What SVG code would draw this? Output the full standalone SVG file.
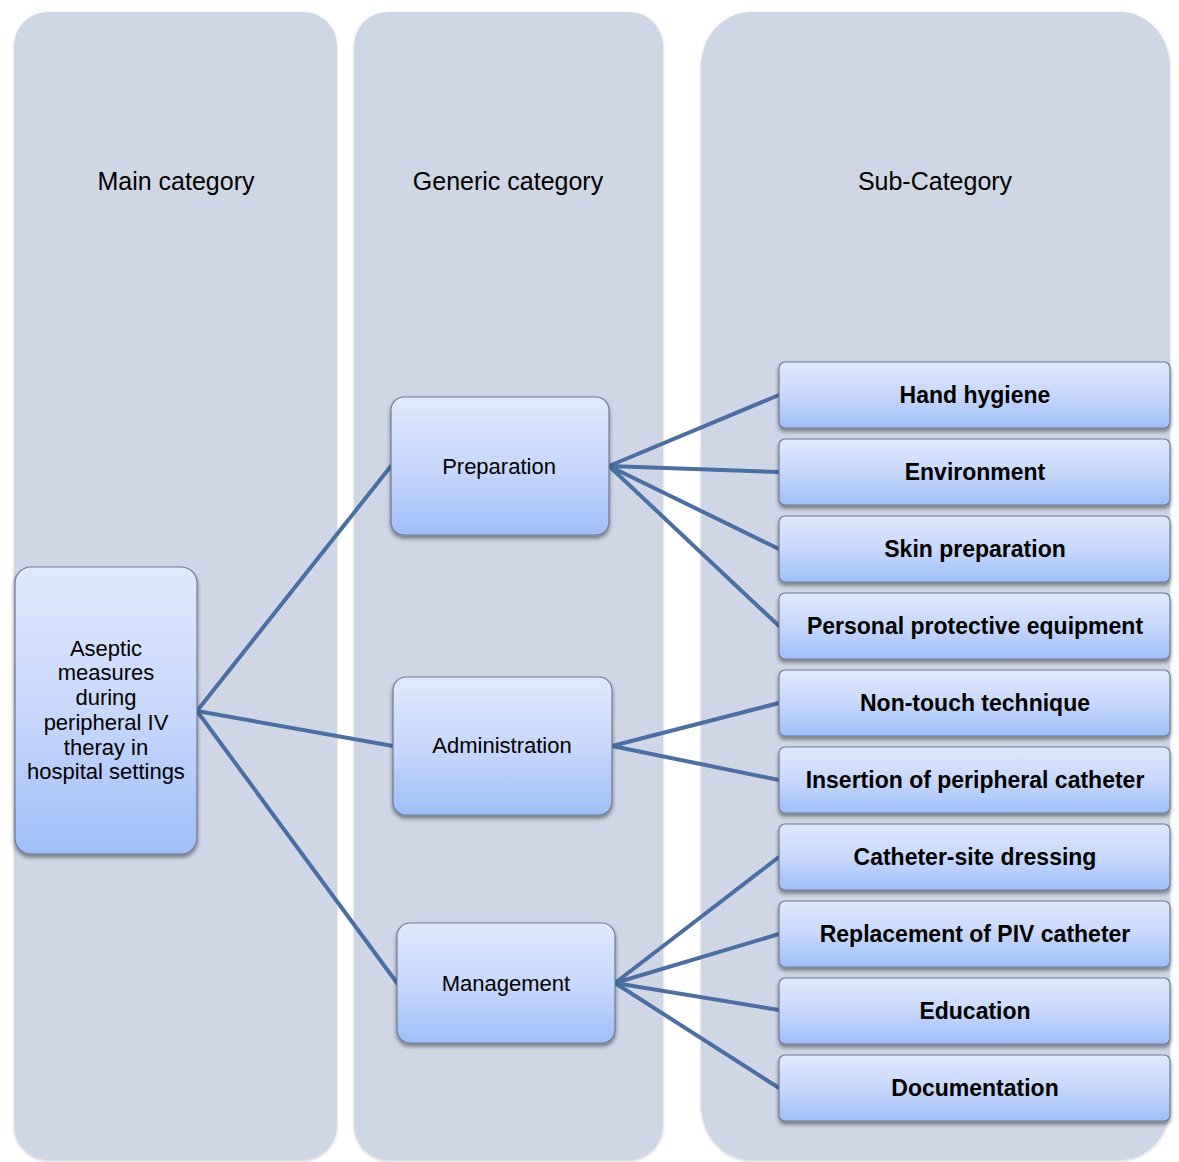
<svg xmlns="http://www.w3.org/2000/svg" width="1179" height="1162" viewBox="0 0 1179 1162">
<defs>
<linearGradient id="g" x1="0" y1="0" x2="0" y2="1">
<stop offset="0" stop-color="#e0e9fd"/>
<stop offset="0.5" stop-color="#c7d8fb"/>
<stop offset="1" stop-color="#a0bef8"/>
</linearGradient>
<filter id="sh" x="-10%" y="-10%" width="120%" height="130%">
<feGaussianBlur in="SourceAlpha" stdDeviation="2"/>
<feOffset dx="0" dy="3" result="b"/>
<feComponentTransfer><feFuncA type="linear" slope="0.45"/></feComponentTransfer>
<feMerge><feMergeNode/><feMergeNode in="SourceGraphic"/></feMerge>
</filter>
<filter id="csh" x="-5%" y="-5%" width="110%" height="110%">
<feGaussianBlur in="SourceAlpha" stdDeviation="1.5"/>
<feOffset dx="0" dy="1"/>
<feComponentTransfer><feFuncA type="linear" slope="0.2"/></feComponentTransfer>
<feMerge><feMergeNode/><feMergeNode in="SourceGraphic"/></feMerge>
</filter>
</defs>
<style>
.col{fill:#cfd7e6;filter:url(#csh)}
.hd{font-family:"Liberation Sans",Arial,sans-serif;font-size:25px;fill:#000;text-anchor:middle}
.box{fill:url(#g);stroke:#6b7b96;stroke-width:1.2;filter:url(#sh)}
.nt{font-family:"Liberation Sans",Arial,sans-serif;font-size:22px;fill:#000;text-anchor:middle}
.st{font-family:"Liberation Sans",Arial,sans-serif;font-size:23px;font-weight:bold;fill:#000;text-anchor:middle}
.ln{stroke:#4a6fa0;stroke-width:4;fill:none;stroke-linecap:round}
</style>
<rect width="1179" height="1162" fill="#ffffff"/>
<g id="columns">
<rect class="col" x="14" y="12" width="323" height="1148" rx="34" ry="34"/>
<rect class="col" x="354" y="12" width="309" height="1148" rx="34" ry="34"/>
<rect class="col" x="701" y="12" width="469" height="1148" rx="50" ry="55"/>
<text class="hd" x="176" y="190">Main category</text>
<text class="hd" x="508" y="190">Generic category</text>
<text class="hd" x="935" y="190">Sub-Category</text>
</g>
<g id="connectors">
<line class="ln" x1="197" y1="711" x2="391" y2="466"/>
<line class="ln" x1="197" y1="711" x2="393" y2="746"/>
<line class="ln" x1="197" y1="711" x2="397" y2="983"/>
<line class="ln" x1="609" y1="466" x2="779" y2="395"/>
<line class="ln" x1="609" y1="466" x2="779" y2="472"/>
<line class="ln" x1="609" y1="466" x2="779" y2="549"/>
<line class="ln" x1="609" y1="466" x2="779" y2="626"/>
<line class="ln" x1="612" y1="746" x2="779" y2="703"/>
<line class="ln" x1="612" y1="746" x2="779" y2="780"/>
<line class="ln" x1="615" y1="983" x2="779" y2="857"/>
<line class="ln" x1="615" y1="983" x2="779" y2="934"/>
<line class="ln" x1="615" y1="983" x2="779" y2="1010"/>
<line class="ln" x1="615" y1="983" x2="779" y2="1088"/>
</g>
<g id="main">
<rect class="box" x="15" y="567" width="182" height="287" rx="16"/>
<text class="nt" x="106" y="656">Aseptic</text>
<text class="nt" x="106" y="680">measures</text>
<text class="nt" x="106" y="705">during</text>
<text class="nt" x="106" y="730">peripheral IV</text>
<text class="nt" x="106" y="755">theray in</text>
<text class="nt" x="106" y="779">hospital settings</text>
</g>
<g id="preparation">
<rect class="box" x="391" y="397" width="218" height="138" rx="13"/>
<text class="nt" x="499" y="474">Preparation</text>
</g>
<g id="administration">
<rect class="box" x="393" y="677" width="219" height="138" rx="13"/>
<text class="nt" x="502" y="753">Administration</text>
</g>
<g id="management">
<rect class="box" x="397" y="923" width="218" height="120" rx="13"/>
<text class="nt" x="506" y="991">Management</text>
</g>
<g id="hand-hygiene">
<rect class="box" x="779" y="362" width="391" height="66" rx="6"/>
<text class="st" x="975" y="403">Hand hygiene</text>
</g>
<g id="environment">
<rect class="box" x="779" y="439" width="391" height="66" rx="6"/>
<text class="st" x="975" y="480">Environment</text>
</g>
<g id="skin-preparation">
<rect class="box" x="779" y="516" width="391" height="66" rx="6"/>
<text class="st" x="975" y="557">Skin preparation</text>
</g>
<g id="ppe">
<rect class="box" x="779" y="593" width="391" height="66" rx="6"/>
<text class="st" x="975" y="634">Personal protective equipment</text>
</g>
<g id="non-touch">
<rect class="box" x="779" y="670" width="391" height="66" rx="6"/>
<text class="st" x="975" y="711">Non-touch technique</text>
</g>
<g id="insertion">
<rect class="box" x="779" y="747" width="391" height="66" rx="6"/>
<text class="st" x="975" y="788">Insertion of peripheral catheter</text>
</g>
<g id="dressing">
<rect class="box" x="779" y="824" width="391" height="66" rx="6"/>
<text class="st" x="975" y="865">Catheter-site dressing</text>
</g>
<g id="replacement">
<rect class="box" x="779" y="901" width="391" height="66" rx="6"/>
<text class="st" x="975" y="942">Replacement of PIV catheter</text>
</g>
<g id="education">
<rect class="box" x="779" y="978" width="391" height="66" rx="6"/>
<text class="st" x="975" y="1019">Education</text>
</g>
<g id="documentation">
<rect class="box" x="779" y="1055" width="391" height="66" rx="6"/>
<text class="st" x="975" y="1096">Documentation</text>
</g>
</svg>
